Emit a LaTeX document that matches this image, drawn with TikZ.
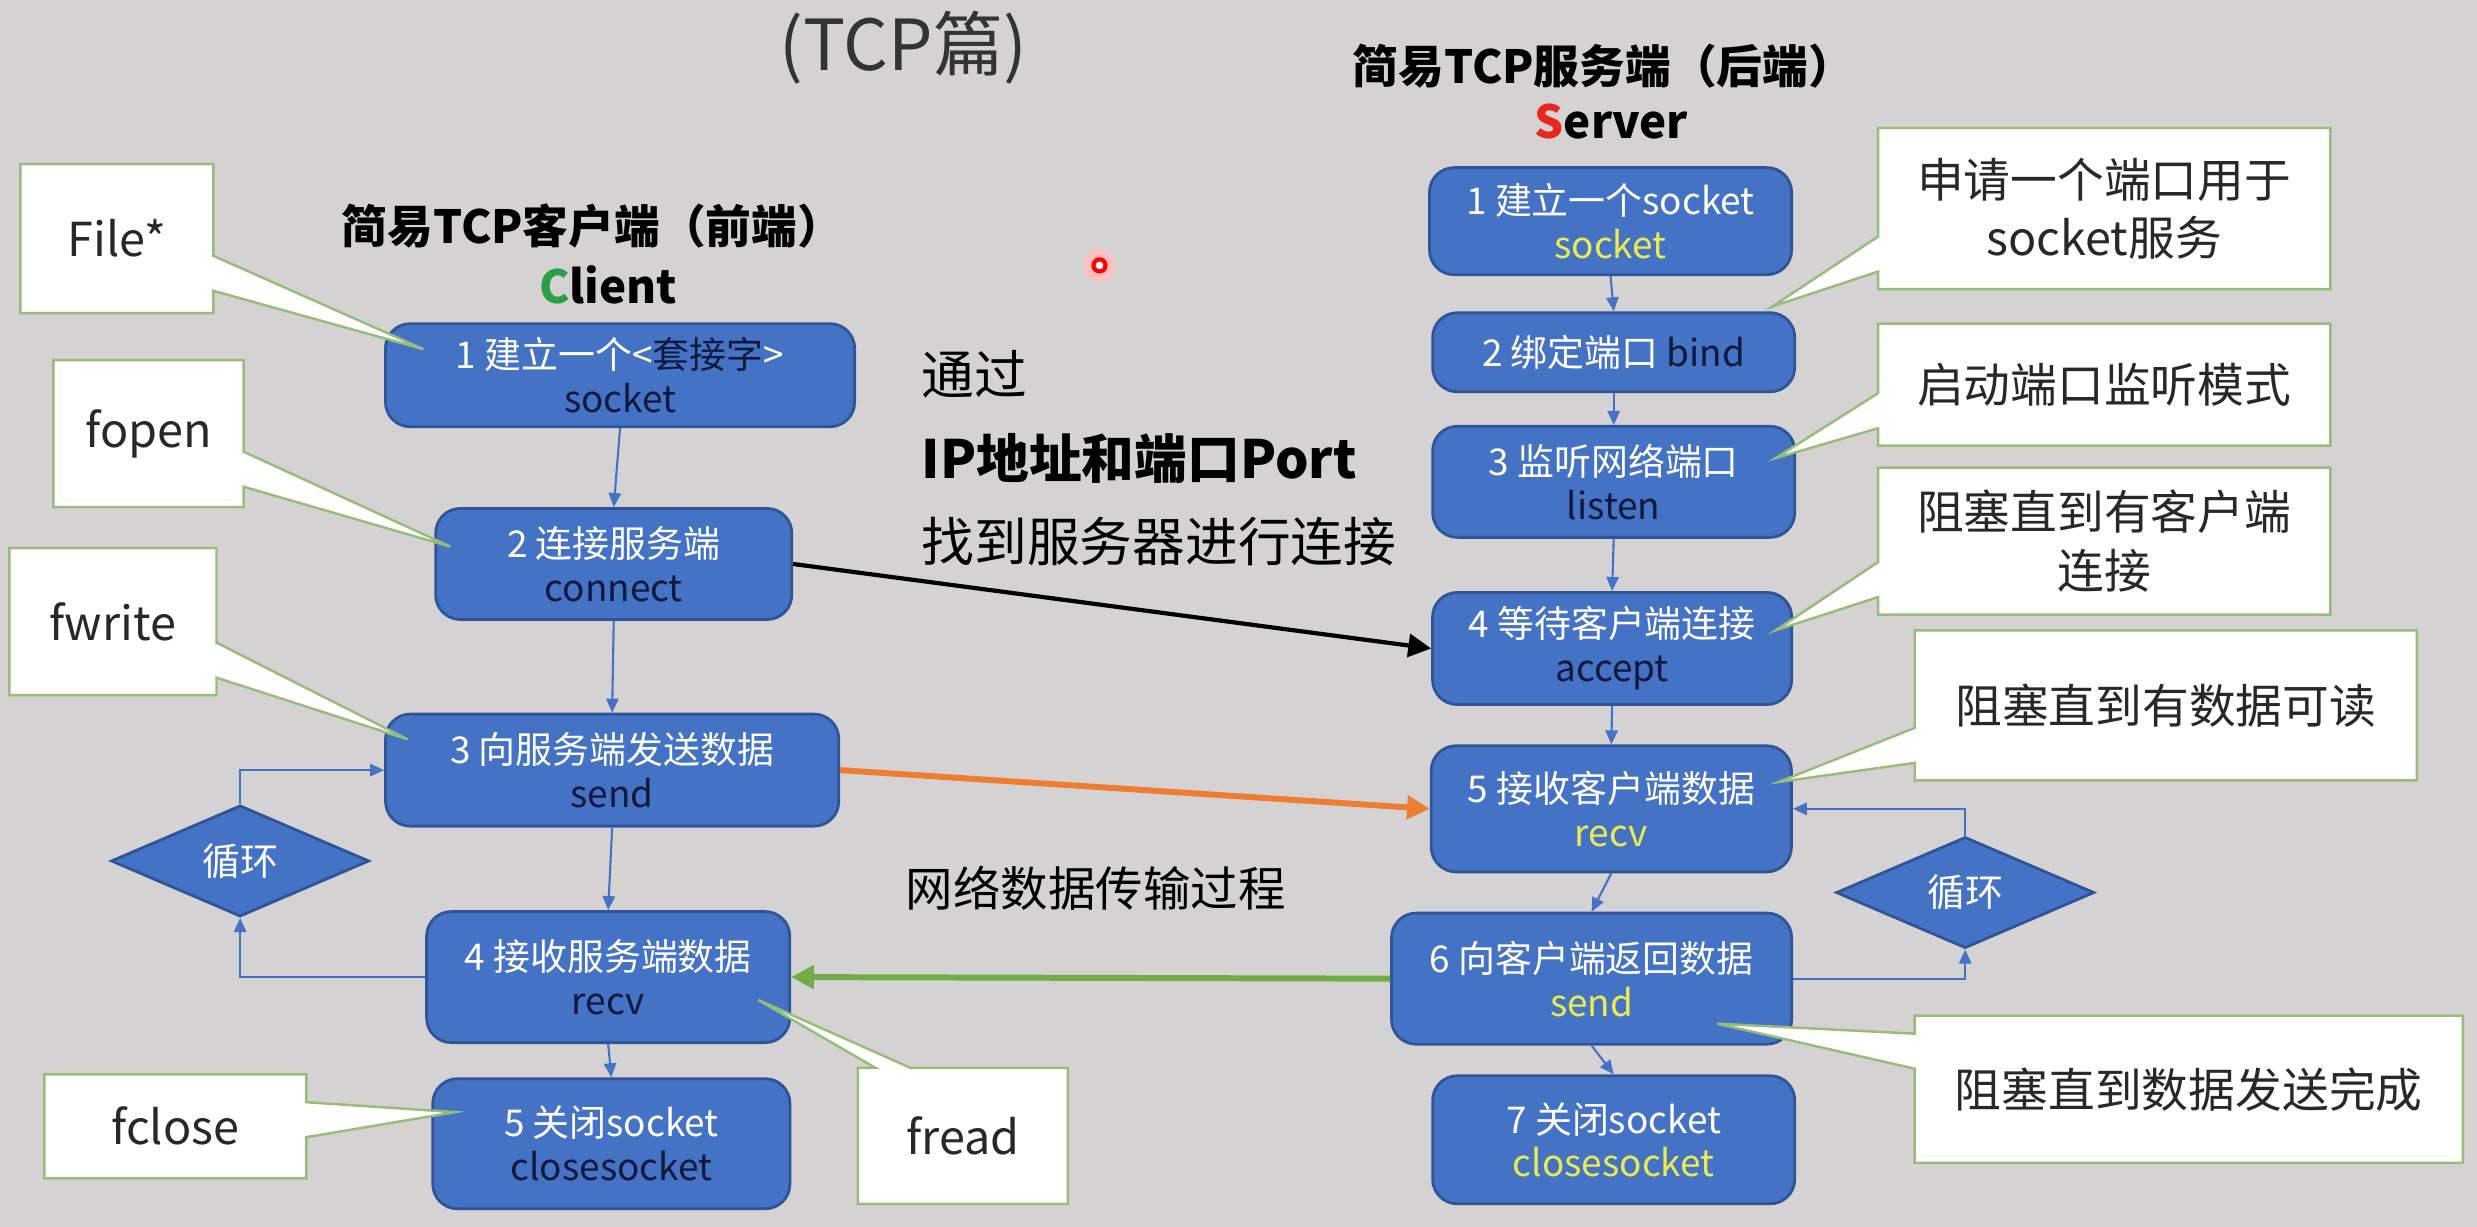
\documentclass[tikz,border=0pt]{standalone}
\usepackage{fontspec}
\setmainfont{Noto Sans CJK SC}
\usetikzlibrary{shapes.geometric,shapes.callouts,arrows.meta,positioning}

\definecolor{bgray}{RGB}{212,210,211}
\definecolor{boxblue}{RGB}{68,114,196}
\definecolor{boxline}{RGB}{47,85,151}
\definecolor{fnnavy}{RGB}{15,25,60}
\definecolor{fnyellow}{RGB}{235,235,80}
\definecolor{notegreen}{RGB}{150,190,120}
\definecolor{notetext}{RGB}{40,40,40}
\definecolor{sendorange}{RGB}{237,125,49}
\definecolor{backgreen}{RGB}{112,173,71}
\definecolor{clientgreen}{RGB}{40,160,70}
\definecolor{serverred}{RGB}{230,40,30}

\newcommand{\bxfont}{\fontsize{10.5}{12.5}\selectfont}
\newcommand{\ntfont}{\fontsize{13.3}{16.5}\selectfont}
\newcommand{\hdfont}{\fontsize{13}{16}\selectfont\bfseries}

\begin{document}
\begin{tikzpicture}[x=0.0158cm, y=-0.0158cm,
    stepbox/.style={draw=boxline, line width=0.8pt, fill=boxblue, rounded corners=7pt,
        text=white, align=center, font=\bxfont, inner sep=1pt},
    loopdia/.style={diamond, draw=boxline, line width=0.8pt, fill=boxblue, text=white,
        minimum width=2.58cm, minimum height=0.96cm, inner sep=0pt,
        font=\fontsize{10.8}{13}\selectfont},
    notebox/.style={rectangle callout, draw=notegreen, line width=0.7pt, fill=white,
        text=notetext, align=center, callout pointer width=0.35cm, font=\ntfont},
    flow/.style={draw=boxblue, line width=0.6pt, -{Triangle[length=4pt,width=3.5pt]}},
    link/.style={line width=#1, -{Triangle[length=6.5pt,width=6.5pt]}},
    midtext/.style={anchor=west, inner sep=0pt, text=black}]

    % Background
    \useasboundingbox (0,0) rectangle (1568,776.7);
    \fill[bgray] (0,0) rectangle (1568,776.7);

    % Titles
    \node[text=black!80, font=\fontsize{20}{24}\selectfont] (title) at (572,30) {(TCP篇)};
    \node[font=\hdfont] (shead) at (1015,42) {简易TCP服务端（后端）};
    \node[font=\hdfont] (sname) at (1020,77) {{\color{serverred}S}erver};
    \node[font=\hdfont] (chead) at (375,143) {简易TCP客户端（前端）};
    \node[font=\hdfont] (cname) at (385,180) {{\color{clientgreen}C}lient};

    % Laser pointer mark
    \fill[red!25] (696,168) circle[radius=0.16cm];
    \draw[red, line width=1.2pt, fill=white] (696,168) circle[radius=0.06cm];

    % Client steps
    \node[stepbox, minimum width=4.69cm, minimum height=1.03cm] (c1) at (392.5,237.5)
        {1 建立一个<{\color{fnnavy}套接字}>\\{\color{fnnavy}socket}};
    \node[stepbox, minimum width=3.56cm, minimum height=1.11cm] (c2) at (388.5,357)
        {2 连接服务端\\{\color{fnnavy}connect}};
    \node[stepbox, minimum width=4.53cm, minimum height=1.12cm] (c3) at (387.5,487.5)
        {3 向服务端发送数据\\{\color{fnnavy}send}};
    \node[stepbox, minimum width=3.63cm, minimum height=1.31cm] (c4) at (385,618.5)
        {4 接收服务端数据\\{\color{fnnavy}recv}};
    \node[stepbox, minimum width=3.57cm, minimum height=1.30cm] (c5) at (387,724)
        {5 关闭socket\\{\color{fnnavy}closesocket}};
    \node[loopdia] (cloop) at (152,545) {循环};

    % Server steps
    \node[stepbox, minimum width=3.62cm, minimum height=1.07cm] (s1) at (1019.5,140)
        {1 建立一个socket\\{\color{fnyellow}socket}};
    \node[stepbox, minimum width=3.62cm, minimum height=0.79cm] (s2) at (1021.5,223)
        {2 绑定端口 {\color{fnnavy}bind}};
    \node[stepbox, minimum width=3.62cm, minimum height=1.11cm] (s3) at (1021.5,305)
        {3 监听网络端口\\{\color{fnnavy}listen}};
    \node[stepbox, minimum width=3.59cm, minimum height=1.12cm] (s4) at (1020.5,410.5)
        {4 等待客户端连接\\{\color{fnnavy}accept}};
    \node[stepbox, minimum width=3.60cm, minimum height=1.26cm] (s5) at (1020,512)
        {5 接收客户端数据\\{\color{fnyellow}recv}};
    \node[stepbox, minimum width=4.00cm, minimum height=1.31cm] (s6) at (1007.5,619.5)
        {6 向客户端返回数据\\{\color{fnyellow}send}};
    \node[stepbox, minimum width=3.62cm, minimum height=1.28cm] (s7) at (1021.5,721.5)
        {7 关闭socket\\{\color{fnyellow}closesocket}};
    \node[loopdia] (sloop) at (1244,565) {循环};

    % Step arrows
    \draw[flow] (c1.south) -- (c2.north);
    \draw[flow] (c2.south) -- (c3.north);
    \draw[flow] (c3.south) -- (c4.north);
    \draw[flow] (c4.south) -- (c5.north);
    \draw[flow] (c4.west) -| (cloop.south);
    \draw[flow] (cloop.north) |- (c3.west);
    \draw[flow] (s1.south) -- (s2.north);
    \draw[flow] (s2.south) -- (s3.north);
    \draw[flow] (s3.south) -- (s4.north);
    \draw[flow] (s4.south) -- (s5.north);
    \draw[flow] (s5.south) -- (s6.north);
    \draw[flow] (s6.south) -- (s7.north);
    \draw[flow] (s6.east) -| (sloop.south);
    \draw[flow] (sloop.north) |- (s5.east);

    % Network arrows
    \draw[link=1.2pt, black] (c2.east) -- (s4.west);
    \draw[link=1.7pt, sendorange] (c3.east) -- (s5.west);
    \draw[link=1.7pt, backgreen] (s6.west) -- (c4.east);

    % Middle texts
    \node[midtext, font=\fontsize{15}{18}\selectfont] (via) at (583,237) {通过};
    \node[midtext, font=\fontsize{15}{18}\selectfont\bfseries] (addr) at (583,290) {IP地址和端口Port};
    \node[midtext, font=\fontsize{15}{18}\selectfont] (find) at (583,343) {找到服务器进行连接};
    \node[midtext, font=\fontsize{13.5}{16}\selectfont] (trans) at (573,562) {网络数据传输过程};

    % Client notes
    \coordinate (tfile) at (268,221);
    \coordinate (topen) at (285,346);
    \coordinate (twrite) at (258,468);
    \coordinate (tclose) at (288,704);
    \coordinate (tread) at (480,633);
    \node[notebox, minimum width=1.93cm, minimum height=1.49cm, callout absolute pointer=(tfile)]
        (nfile) at (74,151) {File*};
    \node[notebox, minimum width=1.90cm, minimum height=1.47cm, callout absolute pointer=(topen)]
        (nopen) at (94,274.5) {fopen};
    \node[notebox, minimum width=2.07cm, minimum height=1.47cm, callout absolute pointer=(twrite)]
        (nwrite) at (71.5,393.5) {fwrite};
    \node[notebox, minimum width=2.62cm, minimum height=1.04cm, callout absolute pointer=(tclose)]
        (nclose) at (111,713) {fclose};
    \node[notebox, minimum width=2.10cm, minimum height=1.36cm, callout absolute pointer=(tread)]
        (nread) at (609.5,719) {fread};

    % Server notes
    \coordinate (tport) at (1122,194);
    \coordinate (tlisten) at (1124,290);
    \coordinate (taccept) at (1124,399);
    \coordinate (trecv) at (1126,495);
    \coordinate (tsend) at (1087,648);
    \node[notebox, minimum width=4.52cm, minimum height=1.61cm, callout absolute pointer=(tport)]
        (nport) at (1332,132) {申请一个端口用于\\socket服务};
    \node[notebox, minimum width=4.52cm, minimum height=1.22cm, callout absolute pointer=(tlisten)]
        (nlisten) at (1332,243.5) {启动端口监听模式};
    \node[notebox, minimum width=4.52cm, minimum height=1.47cm, callout absolute pointer=(taccept)]
        (naccept) at (1332,342.5) {阻塞直到有客户端\\连接};
    \node[notebox, minimum width=5.02cm, minimum height=1.50cm, callout absolute pointer=(trecv)]
        (nrecv) at (1371,446.5) {阻塞直到有数据可读};
    \node[notebox, minimum width=5.48cm, minimum height=1.47cm, callout absolute pointer=(tsend)]
        (nsend) at (1385.5,689.5) {阻塞直到数据发送完成};
\end{tikzpicture}
\end{document}
